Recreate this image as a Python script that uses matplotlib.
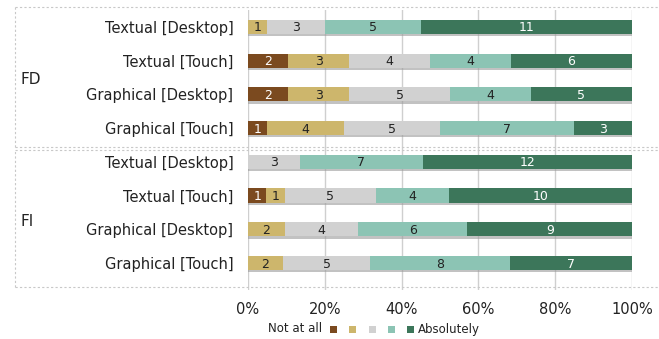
import matplotlib
matplotlib.use("Agg")
import matplotlib.pyplot as plt
import matplotlib.patheffects as pe
from matplotlib.patches import Rectangle
from matplotlib.lines import Line2D
import numpy as np

plt.rcParams['font.family'] = ['DejaVu Sans']

groups = ["FD", "FI"]
rows = ["Textual [Desktop]", "Textual [Touch]", "Graphical [Desktop]", "Graphical [Touch]"]
levels = ["Not at all", "", "", "", "Absolutely"]

# counts per answer level (Not at all -> Absolutely)
fd_counts = [
    [0, 1, 3, 5, 11],
    [2, 3, 4, 4, 6],
    [2, 3, 5, 4, 5],
    [1, 4, 5, 7, 3],
]
fi_counts = [
    [0, 0, 3, 7, 12],
    [1, 1, 5, 4, 10],
    [0, 2, 4, 6, 9],
    [0, 2, 5, 8, 7],
]
xticks = [0, 20, 40, 60, 80, 100]
xtick_labels = ["0%", "20%", "40%", "60%", "80%", "100%"]

colors = ["#7B4A1F", "#CDB66C", "#D1D1D1", "#8CC4B4", "#3C765A"]
text_colors = ["white", "#222222", "#222222", "#222222", "white"]

W, H = 659, 339
fig = plt.figure(figsize=(W / 100, H / 100), dpi=100)
ax = fig.add_axes([248 / W, (H - 290) / H, (632 - 248) / W, 280 / H])

counts = np.array(fd_counts + fi_counts, dtype=float)
labels = rows + rows
pct = counts / counts.sum(axis=1, keepdims=True) * 100
y = np.arange(len(labels))

shadow = [pe.SimplePatchShadow(offset=(0, -1.6), shadow_rgbFace="#9a9a9a", alpha=0.6), pe.Normal()]

left = np.zeros(len(labels))
for k in range(5):
    bars = ax.barh(y, pct[:, k], left=left, height=0.42, color=colors[k],
                   edgecolor="none", zorder=3)
    for b in bars:
        b.set_path_effects(shadow)
    for i in range(len(labels)):
        if counts[i, k] > 0:
            ax.text(left[i] + pct[i, k] / 2, y[i] + 0.03, f"{int(counts[i, k])}",
                    ha="center", va="center", fontsize=9, color=text_colors[k], zorder=4)
    left += pct[:, k]

ax.set_xlim(0, 100)
ax.set_ylim(7.8, -0.5)
ax.set_yticks(y)
ax.set_yticklabels(labels, fontsize=10.5, color="#222222")
ax.set_xticks(xticks)
ax.set_xticklabels(xtick_labels, fontsize=10.5, color="#222222")
ax.tick_params(axis="y", length=0, pad=10.5)
ax.tick_params(axis="x", length=0, pad=9)
ax.grid(axis="x", color="#cfcfcf", linewidth=1, zorder=0)
for s in ax.spines.values():
    s.set_visible(False)

# group boxes (dashed, open on the right) and group names
box_style = dict(color="#c8c8c8", linestyle=(0, (2, 2)), linewidth=0.8,
                 transform=fig.transFigure)
for (top, bot), name, ty in [((7, 147), "FD", 80), ((150, 287), "FI", 222)]:
    yt, yb = (H - top) / H, (H - bot) / H
    x0 = 15 / W
    fig.add_artist(Line2D([x0, 1], [yt, yt], **box_style))
    fig.add_artist(Line2D([x0, 1], [yb, yb], **box_style))
    fig.add_artist(Line2D([x0, x0], [yb, yt], **box_style))
    fig.text(20 / W, (H - ty) / H, name, fontsize=11, ha="left", va="center", color="#222222")

# legend row
ly = (H - 329) / H
fig.text(322 / W, ly, levels[0], fontsize=8.5, ha="right", va="center", color="#222222")
for k, cx in enumerate([333, 352, 372, 391, 410]):
    fig.patches.append(Rectangle(((cx - 3.5) / W, ly - 3.5 / H), 7 / W, 7 / H,
                                 transform=fig.transFigure, facecolor=colors[k],
                                 edgecolor="none"))
fig.text(418 / W, ly, levels[4], fontsize=8.5, ha="left", va="center", color="#222222")

fig.savefig("out.png", dpi=100, facecolor="white")
